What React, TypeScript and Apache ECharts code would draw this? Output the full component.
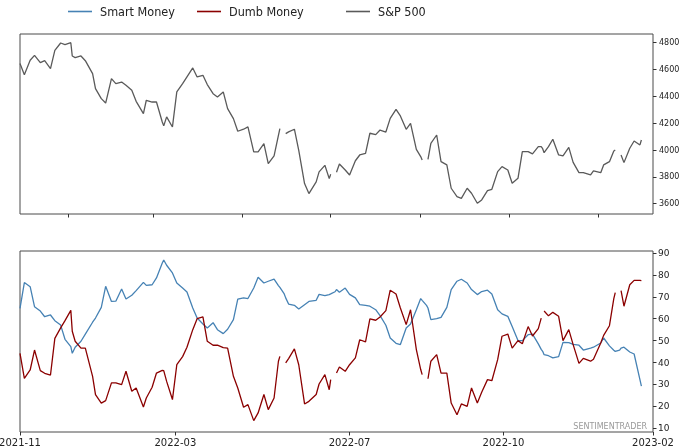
import React, { useEffect, useRef } from 'react';
import * as echarts from 'echarts';

const dates = [
  '2021-11-29', '2021-12-02', '2021-12-06', '2021-12-09', '2021-12-13', '2021-12-16', '2021-12-20', '2021-12-23', '2021-12-27', '2021-12-30',
  '2022-01-03', '2022-01-04', '2022-01-06', '2022-01-10', '2022-01-13', '2022-01-18', '2022-01-20', '2022-01-24', '2022-01-27', '2022-01-31',
  '2022-02-03', '2022-02-07', '2022-02-10', '2022-02-14', '2022-02-17', '2022-02-22', '2022-02-24', '2022-02-28',
  '2022-03-03', '2022-03-07', '2022-03-08', '2022-03-10', '2022-03-14', '2022-03-17', '2022-03-21', '2022-03-24', '2022-03-28', '2022-03-31',
  '2022-04-04', '2022-04-07', '2022-04-11', '2022-04-14', '2022-04-18', '2022-04-21', '2022-04-25', '2022-04-28',
  '2022-05-02', '2022-05-05', '2022-05-09', '2022-05-12', '2022-05-16', '2022-05-19', '2022-05-23', '2022-05-26', '2022-05-27', '2022-05-30', '2022-05-31',
  '2022-06-02', '2022-06-06', '2022-06-09', '2022-06-13', '2022-06-16', '2022-06-21', '2022-06-23', '2022-06-27', '2022-06-30',
  '2022-07-01', '2022-07-04', '2022-07-05', '2022-07-07', '2022-07-11', '2022-07-14', '2022-07-18', '2022-07-21', '2022-07-25', '2022-07-28',
  '2022-08-01', '2022-08-04', '2022-08-08', '2022-08-11', '2022-08-15', '2022-08-18', '2022-08-22', '2022-08-25', '2022-08-29',
  '2022-09-01', '2022-09-02', '2022-09-05', '2022-09-06', '2022-09-08', '2022-09-12', '2022-09-15', '2022-09-19', '2022-09-22', '2022-09-26', '2022-09-29',
  '2022-10-03', '2022-10-06', '2022-10-10', '2022-10-13', '2022-10-17', '2022-10-20', '2022-10-24', '2022-10-27', '2022-10-31',
  '2022-11-03', '2022-11-07', '2022-11-10', '2022-11-14', '2022-11-17', '2022-11-21', '2022-11-23', '2022-11-24', '2022-11-25', '2022-11-28',
  '2022-12-01', '2022-12-05', '2022-12-08', '2022-12-12', '2022-12-15', '2022-12-19', '2022-12-22', '2022-12-27', '2022-12-29',
  '2023-01-03', '2023-01-05', '2023-01-09', '2023-01-12', '2023-01-13', '2023-01-16', '2023-01-17', '2023-01-19', '2023-01-23', '2023-01-26', '2023-01-30', '2023-01-31',
];

const spx = [
  4645, 4562, 4669, 4706, 4651, 4666, 4607, 4743, 4798, 4786,
  4800, 4701, 4689, 4701, 4666, 4570, 4458, 4383, 4350, 4532,
  4495, 4507, 4483, 4445, 4363, 4271, 4371, 4358,
  4358, 4209, 4180, 4247, 4172, 4433, 4495, 4545, 4612, 4545,
  4557, 4488, 4420, 4396, 4433, 4309, 4234, 4140,
  4155, 4172, 3986, 3986, 4048, 3899, 3956, 4110, 4160, null, 4122,
  4135, 4155, 3998, 3750, 3675, 3762, 3837, 3886, 3787,
  3819, null, 3834, 3896, 3851, 3814, 3920, 3963, 3975, 4125,
  4115, 4149, 4134, 4236, 4303, 4254, 4154, 4199, 4005,
  3951, 3926, null, 3930, 4050, 4112, 3913, 3889, 3715, 3653, 3640,
  3715, 3678, 3603, 3628, 3697, 3707, 3839, 3876, 3851,
  3752, 3789, 3988, 3988, 3971, 4025, 4025, 4010, 3980, 4025,
  4080, 3963, 3956, 4020, 3908, 3831, 3831, 3814, 3844,
  3831, 3889, 3913, 3993, 4000, null, 3963, 3906, 4013, 4067, 4038, 4075,
];

const smartMoney = [
  64.7, 76.5, 74.6, 65.5, 63.5, 60.9, 61.7, 59.1, 57.1, 50.6,
  47.3, 44.2, 47.0, 49.7, 53.0, 58.4, 60.3, 65.2, 74.8, 67.9,
  68.0, 73.6, 69.0, 70.7, 72.8, 76.6, 75.2, 75.5,
  78.6, 85.4, 86.8, 84.4, 80.9, 76.3, 74.0, 72.2, 64.9, 60.3,
  57.6, 55.8, 58.2, 55.0, 53.2, 55.2, 59.6, 68.9,
  69.5, 69.2, 74.0, 78.9, 76.3, 77.1, 78.1, 75.1, 74.3, 71.3, 69.5,
  66.7, 66.1, 64.4, 66.4, 67.9, 68.4, 71.1, 70.5, 71.0,
  71.3, 72.3, 73.3, 72.1, 74.0, 71.1, 69.5, 66.4, 66.1, 65.7,
  64.1, 61.4, 57.0, 51.2, 48.8, 48.2, 55.8, 57.6, 64.1,
  69.2, 68.4, 66.1, 64.9, 59.6, 60.0, 60.6, 65.2, 73.3, 77.1, 78.0,
  76.3, 73.3, 71.0, 72.4, 73.0, 71.3, 64.1, 62.2, 61.1,
  56.4, 50.0, 50.0, 52.7, 53.0, 48.5, 46.0, 45.1, 43.6, 43.1,
  42.1, 42.7, 49.2, 49.1, 48.3, 47.9, 45.7, 46.6, 47.0,
  48.9, 51.2, 47.6, 45.6, 45.1, 45.7, 46.6, 47.0, 44.8, 43.9, 32.2, 29.2,
];

const dumbMoney = [
  44.2, 32.8, 36.6, 45.7, 36.3, 35.1, 34.3, 51.0, 55.8, 59.1,
  63.8, 54.3, 49.7, 46.6, 46.6, 33.7, 25.4, 21.5, 22.6, 30.7,
  30.7, 29.9, 36.0, 26.9, 28.4, 19.7, 23.8, 28.7,
  35.2, 36.4, 36.3, 31.4, 23.1, 39.0, 42.7, 47.0, 55.0, 60.0,
  60.8, 49.7, 47.9, 47.9, 46.8, 46.6, 33.7, 28.4,
  19.6, 20.8, 13.5, 17.0, 25.4, 18.5, 23.8, 40.6, 42.8, null, 39.8,
  41.8, 46.2, 39.0, 21.1, 22.3, 25.4, 30.2, 34.5, 27.6,
  32.2, null, 35.2, 38.0, 36.0, 39.0, 42.1, 50.4, 49.4, 59.9,
  59.3, 60.8, 63.7, 73.0, 71.3, 64.9, 57.3, 64.1, 45.9,
  36.8, 34.5, null, 32.6, 40.6, 43.6, 35.2, 35.2, 21.5, 16.2, 21.1,
  20.0, 28.4, 21.5, 26.4, 32.2, 31.7, 41.3, 52.0, 53.0,
  46.6, 50.0, 48.6, 56.4, 52.1, 55.5, 60.3, null, 63.5, 61.3,
  62.9, 61.1, 50.0, 55.0, 48.2, 39.6, 41.9, 40.6, 41.5,
  48.9, 52.4, 56.8, 69.2, 71.9, null, 72.8, 65.7, 75.5, 77.5, 77.5, 77.4,
];

const spxTicks = [3600, 3800, 4000, 4200, 4400, 4600, 4800];
const sentimentTicks = [10, 20, 30, 40, 50, 60, 70, 80, 90];
const topDateTicks = ['2022-01-01', '2022-03-01', '2022-05-01', '2022-07-01', '2022-09-01', '2022-11-01', '2023-01-01'];
const bottomDateTicks = ['2021-11-29', '2022-03-16', '2022-07-14', '2022-10-28', '2023-02-08'];
const bottomTickLabels = ['2021-11', '2022-03', '2022-07', '2022-10', '2023-02'];
const xRange = ['2021-11-29', '2023-02-08'];

const ts = (s: string) => {
  const [y, m, d] = s.split('-').map(Number);
  return new Date(y, m - 1, d).getTime();
};

export default function App() {
  const ref = useRef<HTMLDivElement>(null);
  useEffect(() => {
    if (!ref.current) return;
    const chart = echarts.init(ref.current, undefined, { renderer: 'svg' });
    const bottomTs = bottomDateTicks.map(ts);
    const spine = '#4a4a4a';
    const legendBase = {
      icon: 'rect',
      itemWidth: 24,
      itemHeight: 1.6,
      top: 5,
      padding: 0,
      selectedMode: false,
      textStyle: {
        fontSize: 12.5,
        fontFamily: "'DejaVu Sans Condensed', 'DejaVu Sans', sans-serif",
        color: '#222',
        padding: [0, 0, 0, 3],
      },
    };
    const xCommon = {
      type: 'value',
      min: ts(xRange[0]),
      max: ts(xRange[1]),
      axisLine: { show: false },
      splitLine: { show: false },
    };
    const yCommon = {
      type: 'value',
      position: 'right',
      axisLine: { show: false },
      splitLine: { show: false },
      axisTick: { show: true, length: 3.5, lineStyle: { color: '#333' } },
    };
    const gridCommon = {
      left: 20,
      right: 27,
      show: true,
      borderColor: spine,
      borderWidth: 1,
      containLabel: false,
      outerBoundsMode: 'none',
    };
    chart.setOption({
      animation: false,
      textStyle: { fontFamily: 'DejaVu Sans' },
      legend: [
        { ...legendBase, left: 68, data: ['Smart Money'] },
        { ...legendBase, left: 197, data: ['Dumb Money'] },
        { ...legendBase, left: 346, data: ['S&P 500'] },
      ],
      grid: [
        { ...gridCommon, top: 34, height: 180 },
        { ...gridCommon, top: 251, height: 181 },
      ],
      xAxis: [
        {
          ...xCommon,
          gridIndex: 0,
          axisTick: { show: true, length: 3.5, lineStyle: { color: '#333' }, customValues: topDateTicks.map(ts) },
          axisLabel: { show: false },
        },
        {
          ...xCommon,
          gridIndex: 1,
          axisTick: { show: true, length: 3.5, lineStyle: { color: '#333' }, customValues: bottomTs },
          axisLabel: {
            show: true,
            customValues: bottomTs,
            fontSize: 10,
            color: '#222',
            margin: 5,
            formatter: (v: number) => {
              const i = bottomTs.indexOf(v);
              return i >= 0 ? bottomTickLabels[i] : '';
            },
          },
        },
      ],
      yAxis: [
        {
          ...yCommon,
          gridIndex: 0,
          min: 3523,
          max: 4865,
          axisTick: { ...yCommon.axisTick, customValues: spxTicks },
          axisLabel: { customValues: spxTicks, fontSize: 8, color: '#222', margin: 6, formatter: (v: number) => String(v) },
        },
        {
          ...yCommon,
          gridIndex: 1,
          min: 8.3,
          max: 90.9,
          axisTick: { ...yCommon.axisTick, customValues: sentimentTicks },
          axisLabel: { customValues: sentimentTicks, fontSize: 9, color: '#222', margin: 5, formatter: (v: number) => String(v) },
        },
      ],
      series: [
        {
          name: 'Smart Money',
          type: 'line',
          xAxisIndex: 1,
          yAxisIndex: 1,
          showSymbol: false,
          itemStyle: { color: '#4682b4' },
          lineStyle: { color: '#4682b4', width: 1.3 },
          data: dates.map((d, i) => [ts(d), smartMoney[i]]),
        },
        {
          name: 'Dumb Money',
          type: 'line',
          xAxisIndex: 1,
          yAxisIndex: 1,
          showSymbol: false,
          itemStyle: { color: '#8b0000' },
          lineStyle: { color: '#8b0000', width: 1.3 },
          data: dates.map((d, i) => [ts(d), dumbMoney[i]]),
        },
        {
          name: 'S&P 500',
          type: 'line',
          xAxisIndex: 0,
          yAxisIndex: 0,
          showSymbol: false,
          itemStyle: { color: '#5a5a5a' },
          lineStyle: { color: '#5a5a5a', width: 1.3 },
          data: dates.map((d, i) => [ts(d), spx[i]]),
        },
      ],
      graphic: [
        {
          type: 'text',
          right: 33,
          top: 422,
          style: { text: 'SENTIMENTRADER', fill: '#9a9a9a', fontSize: 8, fontFamily: 'DejaVu Sans' },
        },
      ],
    });
    return () => chart.dispose();
  }, []);
  return <div ref={ref} style={{ position: 'fixed', left: 0, top: 0, width: 680, height: 448 }} />;
}
